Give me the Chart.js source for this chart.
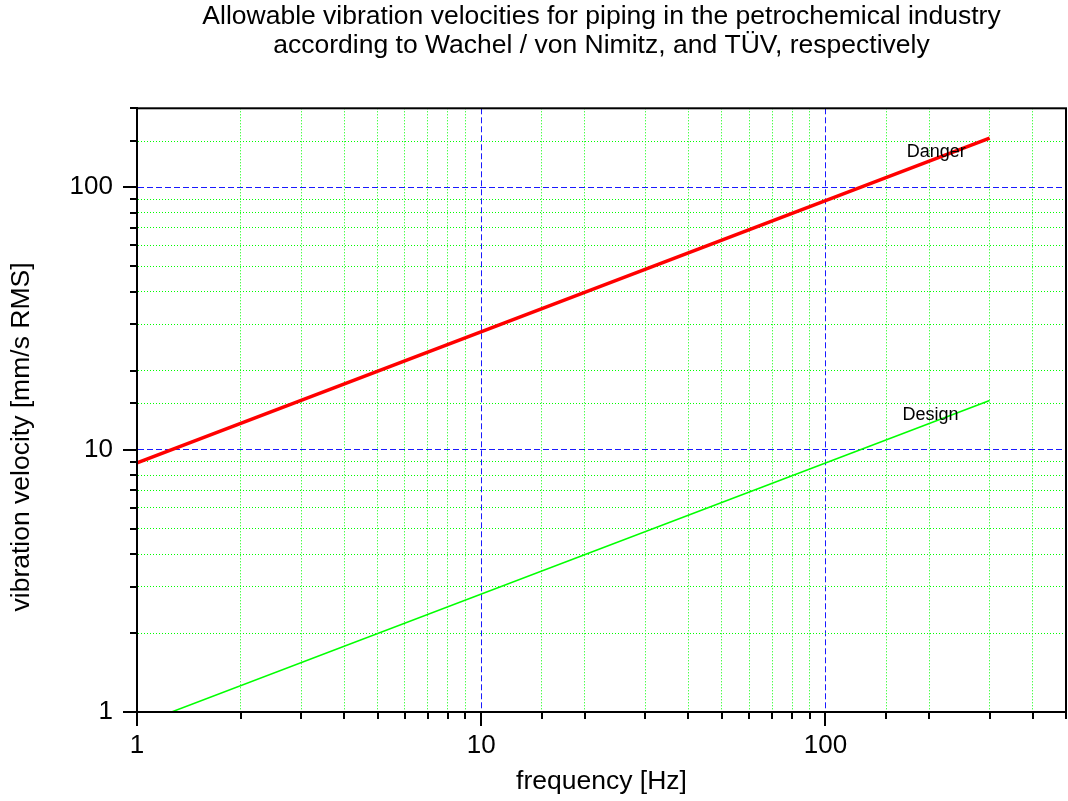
<!DOCTYPE html>
<html>
<head>
<meta charset="utf-8">
<title>Allowable vibration velocities</title>
<script src="https://cdn.jsdelivr.net/npm/chart.js@4/dist/chart.umd.min.js"></script>
<style>
  html, body { margin: 0; padding: 0; background: #fff; }
  #wrap { width: 1068px; height: 801px; }
</style>
</head>
<body>
<div id="wrap"><canvas id="vibChart"></canvas></div>
<script>
// limit lines, v ~ sqrt(f)
const dangerFreq = [1, 300];
const dangerVel = [8.9, 154];
const designFreq = [1.26, 300];
const designVel = [1, 15.4];

const lineNames = ['Danger', 'Design'];
const xRange = [1, 500];
const yRange = [1, 200];

// where the two line names sit (data units)
const nameAnchors = [[210, 136], [202, 13.6]];

const MAJOR_GRID = '#1a1aff';
const MINOR_GRID = '#00ff00';

const isDecade = v => Math.abs(Math.log10(v) - Math.round(Math.log10(v))) < 1e-9;
const toPoints = (xs, ys) => xs.map((x, i) => ({ x: x, y: ys[i] }));

const FONT = '"Liberation Sans", Arial, sans-serif';
Chart.defaults.color = '#000';
Chart.defaults.font.family = FONT;

// tick marks (long at decades), frame, y title and line names
const decorations = {
  id: 'decorations',
  afterDatasetsDraw(chart) {
    const { ctx, chartArea: a, scales: { x, y } } = chart;
    ctx.save();
    ctx.strokeStyle = '#000';
    ctx.lineWidth = 2;
    ctx.beginPath();
    x.ticks.forEach(t => {
      const px = Math.round(x.getPixelForValue(t.value));
      const len = isDecade(t.value) ? 14 : 7;
      ctx.moveTo(px, a.bottom);
      ctx.lineTo(px, a.bottom + len);
    });
    y.ticks.forEach(t => {
      const py = Math.round(y.getPixelForValue(t.value));
      const len = isDecade(t.value) ? 14 : 7;
      ctx.moveTo(a.left, py);
      ctx.lineTo(a.left - len, py);
    });
    ctx.stroke();
    ctx.strokeRect(a.left, a.top, a.right - a.left, a.bottom - a.top);

    ctx.fillStyle = '#000';
    ctx.textAlign = 'center';
    ctx.textBaseline = 'middle';

    ctx.font = '18px ' + FONT;
    lineNames.forEach((name, i) => {
      const [fx, fy] = nameAnchors[i];
      ctx.fillText(name, x.getPixelForValue(fx), y.getPixelForValue(fy));
    });

    // y axis title, sits a bit below the middle of the axis
    ctx.save();
    ctx.translate(22, 437);
    ctx.rotate(-Math.PI / 2);
    ctx.font = '26.5px ' + FONT;
    ctx.fillText('vibration velocity [mm/s RMS]', 0, 0);
    ctx.restore();

    ctx.restore();
  }
};

// blue dashed at decades, green dotted in between
const gridOpts = {
  color: c => (c.tick && isDecade(c.tick.value)) ? MAJOR_GRID : MINOR_GRID,
  lineWidth: 1,
  drawTicks: false
};
const borderOpts = {
  color: '#000',
  width: 2,
  dash: c => c.tick ? (isDecade(c.tick.value) ? [6, 3] : [1, 2]) : []
};
const decadeLabel = v => isDecade(v) ? String(Math.round(v)) : '';

new Chart(document.getElementById('vibChart'), {
  type: 'scatter',
  data: {
    datasets: [
      {
        label: lineNames[0],
        data: toPoints(dangerFreq, dangerVel),
        showLine: true,
        borderColor: '#ff0000',
        borderWidth: 3.5,
        pointRadius: 0
      },
      {
        label: lineNames[1],
        data: toPoints(designFreq, designVel),
        showLine: true,
        borderColor: '#00ff00',
        borderWidth: 1.5,
        pointRadius: 0
      }
    ]
  },
  options: {
    responsive: true,
    maintainAspectRatio: false,
    animation: false,
    layout: { padding: { left: 0, right: 2, top: 0, bottom: 0 } },
    scales: {
      x: {
        type: 'logarithmic',
        min: xRange[0],
        max: xRange[1],
        grid: gridOpts,
        border: borderOpts,
        ticks: {
          autoSkip: false,
          maxRotation: 0,
          padding: 18,
          font: { size: 26 },
          callback: decadeLabel
        },
        title: {
          display: true,
          text: 'frequency [Hz]',
          font: { size: 26.5 },
          padding: { top: 0, bottom: 3 }
        },
        afterFit(scale) {
          scale.height = 89;
          scale.paddingLeft = 0;
          scale.paddingRight = 0;
        }
      },
      y: {
        type: 'logarithmic',
        min: yRange[0],
        max: yRange[1],
        grid: gridOpts,
        border: borderOpts,
        ticks: {
          autoSkip: false,
          padding: 24,
          font: { size: 26 },
          callback: decadeLabel
        },
        afterFit(scale) {
          scale.width = 137;
          scale.paddingTop = 0;
          scale.paddingBottom = 0;
        }
      }
    },
    plugins: {
      legend: { display: false },
      tooltip: { enabled: false },
      title: {
        display: true,
        fullSize: false,
        text: [
          'Allowable vibration velocities for piping in the petrochemical industry',
          'according to Wachel / von Nimitz, and TÜV, respectively'
        ],
        font: { size: 26.5, weight: 'normal', lineHeight: 1.1 },
        padding: { top: 2, bottom: 48 }
      }
    }
  },
  plugins: [decorations]
});
</script>
</body>
</html>
